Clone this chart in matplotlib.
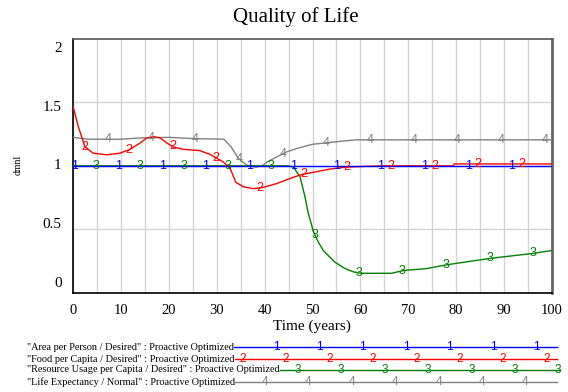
import numpy as np
import matplotlib
matplotlib.use("Agg")
import matplotlib.pyplot as plt

# Simulated series, read at the sample times below (dmnl vs years)
t_area = [0, 100]
v_area = [1.0, 1.0]

t_food = [0, 1.1, 2.5, 4.2, 7, 9.8, 11.9, 14, 15.4, 16.8, 18.2, 19.6, 20.9, 23, 26.5,
          28.6, 30, 31.4, 32.8, 34, 35.6, 37.6, 39.7, 42.5, 46, 48.1, 51, 53.7, 57,
          60.3, 65, 70, 75, 79.4, 79.6, 90, 100]
v_food = [1.47, 1.31, 1.15, 1.10, 1.087, 1.10, 1.13, 1.18, 1.22, 1.23, 1.22, 1.18, 1.15,
          1.13, 1.12, 1.09, 1.06, 1.03, 0.98, 0.87, 0.835, 0.82, 0.83, 0.86, 0.91, 0.935,
          0.955, 0.975, 0.99, 0.995, 1.0, 1.0, 1.0, 1.0, 1.015, 1.015, 1.015]

t_res = [0, 45, 46, 47.4, 48.4, 49.1, 50.2, 51.2, 52.3, 54.7, 56.8, 58.5, 60, 66.5, 69,
         73.8, 78, 87, 96.1, 100]
v_res = [1.0, 1.0, 0.99, 0.915, 0.76, 0.63, 0.48, 0.40, 0.33, 0.24, 0.19, 0.165, 0.153,
         0.153, 0.175, 0.19, 0.22, 0.27, 0.31, 0.333]

t_life = [0, 3, 10, 14, 20, 25, 31.5, 33, 34.5, 36.2, 38.2, 39.5, 40.5, 42.5, 44.6, 47,
          50, 55, 59, 100]
v_life = [1.225, 1.21, 1.21, 1.22, 1.225, 1.215, 1.21, 1.15, 1.06, 1.007, 0.99, 1.0,
          1.03, 1.07, 1.11, 1.14, 1.17, 1.19, 1.205, 1.205]

series = [
    ("1", t_area, v_area, "#0000ff", '"Area per Person / Desired" : Proactive Optimized', 0.4),
    ("2", t_food, v_food, "#ff0000", '"Food per Capita / Desired" : Proactive Optimized', 2.5),
    ("3", t_res, v_res, "#008000", '"Resource Usage per Capita / Desired" : Proactive Optimized', 4.9),
    ("4", t_life, v_life, "#808080", '"Life Expectancy / Normal" : Proactive Optimized', 7.3),
]
label_step = 9.12

x_ticks = list(range(0, 101, 10))
y_ticks = [0, 0.5, 1, 1.5, 2]
y_tick_labels = ["0", "0.5", "1", "1.5", "2"]

serif = "Liberation Serif"
sans = "Liberation Sans"

fig = plt.figure(figsize=(5.68, 3.92), dpi=100)
ax = fig.add_axes([73 / 568, 1 - 292.7 / 392, (552 - 73) / 568, (292.7 - 39) / 392])

# draw back to front so series 1 ends up on top
for num, t, v, col, _, start in reversed(series):
    ax.plot(t, v, color=col, lw=1.0, zorder=3)
for num, t, v, col, _, start in reversed(series):
    tl = np.arange(start, 100, label_step)
    for x in tl:
        ax.text(x, np.interp(x, t, v), num, color=col, fontsize=9, family=sans,
                ha="center", va="center", zorder=4)

ax.set_xlim(0, 100)
ax.set_ylim(0, 2)
ax.set_xticks(np.arange(0, 101, 5), minor=False)
ax.set_yticks([0.5, 1, 1.5])
ax.grid(True, color="#d4d4d4", lw=1.0, zorder=0)
ax.tick_params(length=0, labelleft=False, labelbottom=False)
for side in ["left", "bottom"]:
    ax.spines[side].set_color("black")
    ax.spines[side].set_linewidth(1.2)
ax.spines["top"].set_color("#555555")
ax.spines["top"].set_linewidth(1.2)
ax.spines["right"].set_color("#666666")
ax.spines["right"].set_linewidth(2)

# axis labels drawn as text; y labels sit slightly toward the middle
for val, lab in zip(y_ticks, y_tick_labels):
    y_lab = 1 + (val - 1) * 0.927
    ax.text(-0.024, y_lab / 2, lab, transform=ax.transAxes, ha="right", va="center",
            family=serif, fontsize=11)
for val in x_ticks:
    ax.text(val, -0.045, str(val), transform=ax.get_xaxis_transform(), ha="center",
            va="top", family=serif, fontsize=10.5)
fig.text(18 / 568, 1 - 165 / 392, "dmnl", rotation=90, ha="center", va="center",
         family=serif, fontsize=7)
fig.text(312 / 568, 1 - 326 / 392, "Time (years)", ha="center", va="center",
         family=serif, fontsize=11)
fig.text(296 / 568, 1 - 17 / 392, "Quality of Life", ha="center", va="center",
         family=serif, fontsize=15)

# key below the chart
leg = fig.add_axes([0, 0, 1, 1], facecolor="none")
leg.set_xlim(0, 568)
leg.set_ylim(392, 0)
leg.axis("off")
row_y = [347, 359, 370, 382]
mark_start = [276, 242.7, 297.7, 265]
fig.canvas.draw()
for (num, t, v, col, name, start), y, m0 in zip(series, row_y, mark_start):
    txt = leg.text(27, y, name, family=serif, fontsize=7.4, ha="left", va="center")
    bb = txt.get_window_extent(renderer=fig.canvas.get_renderer())
    x0 = leg.transData.inverted().transform((bb.x1, 0))[0]
    x1 = 560 if num == "3" else 556.7
    leg.plot([x0, x1], [y, y], color=col, lw=1.0)
    for xm in np.arange(m0, x1 + 1, 43.4):
        leg.text(xm, y, num, color=col, family=sans, fontsize=8.5, ha="center", va="center")

fig.savefig("out.png", dpi=100)
